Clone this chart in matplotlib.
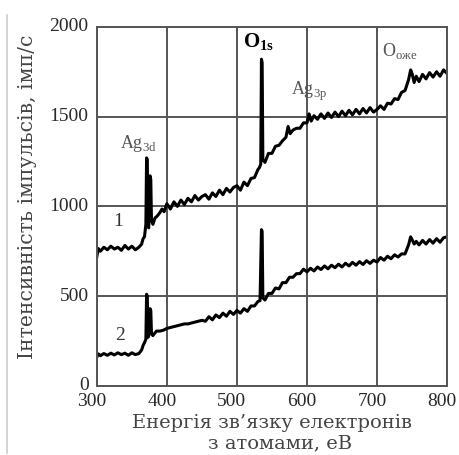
import numpy as np
import matplotlib.pyplot as plt
import matplotlib.transforms as mtransforms
from matplotlib.lines import Line2D

plt.rcParams["font.family"] = ["Liberation Serif", "DejaVu Serif"]

# spectrum 1 (upper curve)
energy_1 = [300, 302, 305, 310, 315, 320, 325, 330, 335, 340, 345, 350, 355, 360,
            364, 366, 368, 370, 371, 372, 373, 374, 375, 376, 377, 378, 380, 383,
            386, 390, 393, 396, 400, 405, 410, 415, 420, 425, 430, 435, 440, 445,
            450, 455, 460, 465, 470, 475, 480, 485, 490, 495, 500, 505, 510, 515,
            520, 525, 530, 532, 534, 535, 536, 537, 540, 545, 550, 555, 560, 565,
            570, 573, 576, 580, 585, 590, 595, 600, 603, 606, 610, 615, 620, 625,
            630, 635, 640, 645, 650, 655, 660, 665, 670, 675, 680, 685, 690, 695,
            700, 705, 710, 715, 720, 725, 730, 735, 740, 745, 748, 750, 753, 756,
            760, 765, 770, 775, 780, 785, 790, 795, 800]
counts_1 = [720, 765, 750, 772, 758, 778, 762, 772, 755, 782, 762, 778, 758, 772,
            790, 820, 830, 900, 1270, 1260, 900, 880, 1000, 1170, 1150, 920, 900, 935,
            945, 965, 985, 970, 1015, 985, 1025, 1000, 1035, 1010, 1045, 1025, 1060, 1035,
            1055, 1065, 1040, 1075, 1055, 1090, 1065, 1100, 1080, 1105, 1115, 1090, 1135, 1115,
            1155, 1160, 1205, 1215, 1235, 1820, 1800, 1260, 1245, 1295, 1295, 1335, 1340, 1365,
            1385, 1445, 1405, 1425, 1435, 1435, 1465, 1465, 1515, 1475, 1505, 1485, 1515, 1490,
            1520, 1495, 1525, 1500, 1530, 1505, 1535, 1510, 1540, 1515, 1545, 1520, 1550, 1525,
            1540, 1560, 1540, 1575, 1570, 1600, 1595, 1635, 1645, 1705, 1760, 1740, 1690, 1725,
            1695, 1735, 1710, 1745, 1720, 1750, 1725, 1760, 1740]

# spectrum 2 (lower curve)
energy_2 = [300, 302, 305, 310, 315, 320, 325, 330, 335, 340, 345, 350, 355, 360,
            364, 366, 368, 370, 371, 372, 373, 375, 376, 377, 378, 380, 385, 390,
            395, 400, 405, 410, 415, 420, 425, 430, 435, 440, 445, 450, 455, 460,
            465, 470, 475, 480, 485, 490, 495, 500, 505, 510, 515, 520, 525, 530,
            533, 535, 536, 537, 540, 545, 550, 555, 560, 565, 570, 575, 580, 585,
            590, 595, 600, 605, 610, 615, 620, 625, 630, 635, 640, 645, 650, 655,
            660, 665, 670, 675, 680, 685, 690, 695, 700, 705, 710, 715, 720, 725,
            730, 735, 740, 745, 748, 750, 753, 756, 760, 765, 770, 775, 780, 785,
            790, 795, 800]
counts_2 = [160, 178, 168, 180, 170, 182, 172, 184, 174, 182, 170, 184, 174, 180,
            200, 225, 240, 260, 510, 500, 270, 290, 430, 420, 290, 280, 305, 305,
            310, 320, 325, 330, 335, 340, 345, 345, 350, 355, 360, 365, 360, 385,
            368, 395, 380, 405, 388, 415, 398, 420, 405, 430, 415, 445, 445, 470,
            475, 870, 860, 490, 478, 515, 515, 545, 540, 575, 575, 605, 605, 625,
            625, 650, 635, 655, 640, 662, 648, 668, 652, 672, 658, 678, 662, 683,
            668, 688, 672, 692, 676, 697, 682, 700, 690, 715, 700, 722, 708, 730,
            718, 735, 735, 785, 830, 815, 790, 805, 785, 810, 790, 815, 795, 820,
            800, 825, 830]

x_ticks = [300, 400, 500, 600, 700, 800]
y_ticks = [0, 500, 1000, 1500, 2000]

fig = plt.figure(figsize=(4.59, 4.55), dpi=100)
ax = fig.add_axes([0.211, 0.152, 0.763, 0.789])

ax.plot(energy_1, counts_1, color="black", lw=2.2, solid_joinstyle="round")
ax.plot(energy_2, counts_2, color="black", lw=2.2, solid_joinstyle="round")

ax.set_xlim(300, 800)
ax.set_ylim(0, 2000)
ax.set_xticks(x_ticks)
ax.set_yticks(y_ticks)
ax.grid(True, color="#555555", lw=1.4)
ax.set_axisbelow(True)
for s in ax.spines.values():
    s.set_color("#555555")
    s.set_linewidth(1.4)
ax.tick_params(length=0, labelsize=14, colors="#2a2a2a")
ax.tick_params(axis="x", pad=5)
ax.tick_params(axis="y", pad=6)
# x tick labels sit a little to the left of their grid lines
shift = mtransforms.ScaledTranslation(-5 / 100, 0, fig.dpi_scale_trans)
for lab in ax.get_xticklabels():
    lab.set_transform(lab.get_transform() + shift)
for lab in ax.get_yticklabels():
    lab.set_transform(lab.get_transform() + mtransforms.ScaledTranslation(0, 2 / 100, fig.dpi_scale_trans))

# peak labels
gray = "#555555"
ax.text(359, 1350, r"Ag$_{\mathregular{3d}}$", fontsize=13, color=gray, ha="center", va="center")
ax.text(531, 1915, r"O$_{\mathregular{1s}}$", fontsize=15, fontweight="bold", color="black",
        ha="center", va="center", bbox=dict(facecolor="white", edgecolor="none", pad=1))
ax.text(603, 1640, r"Ag$_{\mathregular{3p}}$", fontsize=13, color=gray, ha="center", va="center")
ax.text(733, 1865, r"O$_{\mathregular{оже}}$", fontsize=13, color=gray, ha="center", va="center")
ax.text(330, 915, "1", fontsize=14, color="#333333", ha="center", va="center")
ax.text(333, 280, "2", fontsize=14, color="#333333", ha="center", va="center")

lab_font = ["DejaVu Serif"]
fig.text(272 / 459, 1 - 423 / 455, "Енергія зв’язку електронів", family=lab_font,
         fontsize=14, color="#444444", ha="center", va="center")
fig.text(280 / 459, 1 - 443 / 455, "з атомами, еВ", family=lab_font,
         fontsize=14, color="#444444", ha="center", va="center")
fig.text(28 / 459, 1 - 197 / 455, "Інтенсивність імпульсів, імп/с", family=lab_font,
         fontsize=14.7, color="#444444", ha="center", va="center", rotation=90)

# light border on the left of the scanned figure
fig.add_artist(Line2D([7 / 459, 7 / 459], [2 / 455, 1 - 15 / 455], transform=fig.transFigure,
                      color="#cccccc", lw=1.2))

fig.savefig("out.png", dpi=100)
